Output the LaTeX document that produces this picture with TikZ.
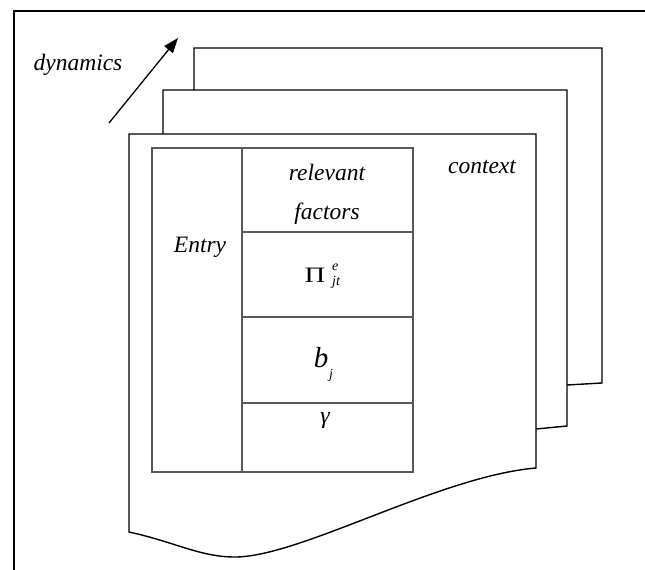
\documentclass[tikz,border=0pt]{standalone}
\usepackage{fontspec}
\setmainfont{Liberation Serif}[ItalicFont={Liberation Serif Italic},BoldFont={Liberation Serif Bold}]
\usetikzlibrary{arrows.meta}
\begin{document}
\begin{tikzpicture}[x=1pt,y=-1pt,
  pageline/.style={line width=1.4pt,line join=miter},
  frameline/.style={line width=1.2pt},
  tabline/.style={line width=1.1pt,draw=black!65},
  lbl/.style={inner sep=0pt,font=\fontsize{23.5}{26}\selectfont\itshape},
]
\useasboundingbox (0,0) rectangle (645,570);
% outer frame (left and top edges only visible)
\draw[frameline] (14,570) -- (14,11) -- (645,11);
% back page
\draw[pageline] (194,90) -- (194,48) -- (602,48) -- (602,383) -- (567,385);
% middle page
\draw[pageline] (163,134) -- (163,90) -- (567,90) -- (567,426) -- (536,429);
% front page
\draw[pageline,fill=white] (129,532) -- (129,134) -- (536,134) -- (536,468)
  .. controls (440,476) and (300,557) .. (235,557)
  .. controls (200,557) and (175,542) .. (129,532) -- cycle;
% table
\draw[tabline] (152,148) rectangle (413,472);
\draw[tabline] (242,148) -- (242,472);
\draw[tabline] (242,232) -- (413,232);
\draw[tabline] (242,317) -- (413,317);
\draw[tabline] (242,403) -- (413,403);
% texts
\node[lbl] (dyn) at (78,65) {dynamics};
\node[lbl] (ctx) at (482,167) {context};
\node[lbl] (rel) at (327,172) {relevant};
\node[lbl] (fac) at (327,214) {factors};
\node[lbl] (ent) at (200,247) {Entry};
\node[inner sep=0pt,anchor=base,font=\fontsize{22}{24}\selectfont] (pi) at (315,282) {\scalebox{1.3}[1]{Π}};
\node[inner sep=0pt,anchor=base west,font=\fontsize{14}{15}\selectfont\itshape] (pie) at (332,270) {e};
\node[inner sep=0pt,anchor=base west,font=\fontsize{14}{15}\selectfont\itshape] (pijt) at (332,285) {jt};
\node[inner sep=0pt,anchor=base,font=\fontsize{29}{30}\selectfont\itshape] (b) at (321,367) {b};
\node[inner sep=0pt,anchor=base west,font=\fontsize{14}{15}\selectfont\itshape] (bj) at (329,378) {j};
\node[inner sep=0pt,anchor=base,font=\fontsize{24}{26}\selectfont\itshape] (gam) at (325,423) {γ};
% dynamics arrow
\coordinate (atail) at (109,123);
\coordinate (ahead) at (178,38);
\draw[line width=1.3pt,-{Triangle[length=15pt,width=11pt]}] (atail) -- (ahead);
\end{tikzpicture}
\end{document}
